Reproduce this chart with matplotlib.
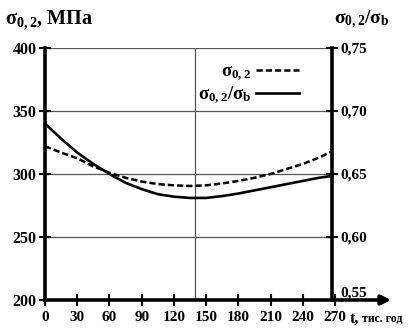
import numpy as np
import matplotlib.pyplot as plt

plt.rcParams['font.family'] = ['Liberation Serif', 'DejaVu Serif']
plt.rcParams['font.weight'] = 'bold'
plt.rcParams['mathtext.fontset'] = 'custom'
plt.rcParams['mathtext.rm'] = 'Liberation Serif:bold'
plt.rcParams['mathtext.it'] = 'Liberation Serif:bold'

# time, thousand hours
t = [0, 15, 30, 45, 60, 75, 90, 105, 120, 135, 150, 165, 180, 195, 210, 225, 240, 255, 267]
# sigma_0.2, MPa (left axis)
sigma02 = [322, 317, 312.5, 306, 301, 297, 294, 292, 291, 290.5, 291, 292.5, 294.5, 297, 300,
           304, 308, 313, 318]
# sigma_0.2 / sigma_b (right axis)
ratio = [0.690, 0.678, 0.667, 0.658, 0.650, 0.643, 0.638, 0.634, 0.632, 0.631, 0.631, 0.6325,
         0.6345, 0.637, 0.6395, 0.642, 0.6445, 0.647, 0.6485]

xticks = [0, 30, 60, 90, 120, 150, 180, 210, 240, 270]
yticks_left = [200, 250, 300, 350, 400]
yticks_right = [0.55, 0.60, 0.65, 0.70, 0.75]
t_right = 267   # position of right axis
t_vline = 140

fig = plt.figure(figsize=(4.18, 3.31), dpi=100)
ax = fig.add_axes([45 / 418, 31 / 331, 346 / 418, 252 / 331])
ax.set_xlim(0, 322)
ax.set_ylim(200, 400)

for s in ['top', 'right', 'bottom']:
    ax.spines[s].set_visible(False)
ax.spines['left'].set_linewidth(2.6)

# grid lines
for yv in yticks_left[1:]:
    ax.plot([0, t_right], [yv, yv], color='#555555', lw=0.9, zorder=1)
ax.plot([t_vline, t_vline], [200, 400], color='#555555', lw=0.9, zorder=1)

# x axis with arrow
ax.annotate('', xy=(322, 200), xytext=(-1, 200), xycoords='data',
            arrowprops=dict(arrowstyle='-|>', lw=2.6, color='black',
                            mutation_scale=14, shrinkA=0, shrinkB=0),
            annotation_clip=False)

ax.set_xticks(xticks)
ax.set_xticklabels([str(v) for v in xticks])
ax.set_yticks(yticks_left)
ax.tick_params(axis='both', direction='inout', length=8, width=1.5, labelsize=11.5, pad=2)
ax.tick_params(axis='x', pad=4, labelsize=11)

ax.plot(t, sigma02, ls=(0, (2.5, 1.2)), color='black', lw=1.8, zorder=3,
        label=r'σ$_{0,2}$')

ax2 = ax.twinx()
ax2.set_ylim(0.55, 0.75)
for s in ['top', 'left', 'bottom']:
    ax2.spines[s].set_visible(False)
ax2.spines['right'].set_position(('data', t_right))
ax2.spines['right'].set_linewidth(2.6)
ax2.set_yticks(yticks_right)
ax2.set_yticklabels([f'{v:.2f}'.replace('.', ',') for v in yticks_right])
ax2.tick_params(axis='y', direction='inout', length=8, width=1.5, labelsize=11, pad=2)
ax2.get_yticklabels()[0].set_verticalalignment('bottom')
ax2.plot(t, ratio, color='black', lw=1.9, zorder=3, label=r'σ$_{0,2}$/σ$_b$')

h1, l1 = ax.get_legend_handles_labels()
h2, l2 = ax2.get_legend_handles_labels()
ax2.legend(h1 + h2, l1 + l2, loc='upper right', bbox_to_anchor=(0.755, 0.97),
           frameon=False, markerfirst=False, fontsize=13.5, handlelength=2.3,
           handletextpad=0.2, labelspacing=0.1, borderaxespad=0)

fig.text(5 / 418, 1 - 20 / 331, r'σ$_{0,2}$, МПа', fontsize=14.5, va='center', ha='left')
fig.text(334 / 418, 1 - 20 / 331, r'σ$_{0,2}$/σ$_b$', fontsize=14, va='center', ha='left')
fig.text(350 / 418, 1 - 319 / 331, 't,', fontsize=11.5, va='center', ha='left')
fig.text(362 / 418, 1 - 319 / 331, 'тис. год', fontsize=8.5, va='center', ha='left')

fig.savefig('out.png', dpi=100)
